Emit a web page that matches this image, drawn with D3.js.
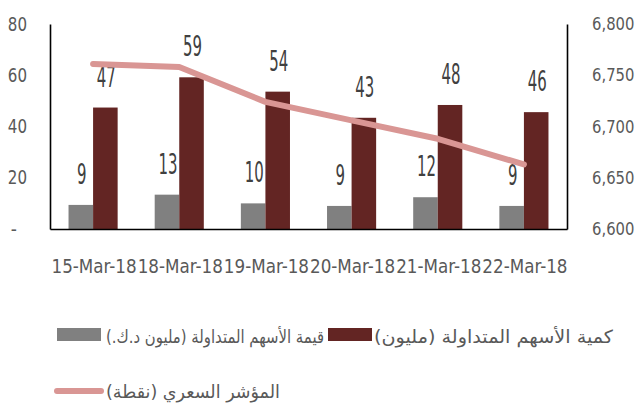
<!DOCTYPE html>
<html lang="ar">
<head>
    <meta charset="UTF-8">
    <title>traded shares chart</title>
    <script src="https://cdn.jsdelivr.net/npm/d3@7/dist/d3.min.js"></script>
    <style>
        body { margin: 0; background: #fff; }
        text { font-family: 'Liberation Sans Narrow', 'DejaVu Sans Condensed', sans-serif; }
        .axis text { fill: #595959; font-size: 19px; }
        .axis.right text { font-size: 17.5px; }
        .axis path { stroke: #000; stroke-width: 1.6; }
        .legend text { font-family: 'DejaVu Sans', sans-serif; fill: #595959; font-size: 18px; }
    </style>
</head>
<body>
    <script>
        // data
        var categories = ['15-Mar-18', '18-Mar-18', '19-Mar-18', '20-Mar-18', '21-Mar-18', '22-Mar-18'];
        var valueTraded = [9.4, 13.4, 10.0, 9.0, 12.4, 9.0];       // grey bars
        var volumeTraded = [47.4, 59.2, 53.6, 43.4, 48.4, 45.6];   // dark red bars
        var priceIndex = [6761, 6758, 6724, 6706, 6688, 6663];     // line, right axis
        var leftTicks = [0, 20, 40, 60, 80];
        var rightTicks = [6600, 6650, 6700, 6750, 6800];
        var seriesNames = ['قيمة الأسهم المتداولة (مليون د.ك.)', 'كمية الأسهم المتداولة (مليون)', 'المؤشر السعري (نقطة)'];

        var w = 637;
        var h = 407;
        // plot box (note: "top" is taken by window.top)
        var plotLeft = 50, plotRight = 567, plotTop = 24, plotBottom = 229;
        var colors = ['#808080', '#632523', '#d99694'];

        var svg = d3.select('body')
                    .append('svg')
                    .attr('width', w)
                    .attr('height', h);

        //scales
        var x0 = d3.scaleBand()
                    .domain(categories)
                    .range([plotLeft, plotRight])
                    .paddingInner(0.43)
                    .paddingOuter(0.215);

        var x1 = d3.scaleBand()
                    .domain([0, 1])
                    .range([0, x0.bandwidth()]);

        var yLeft = d3.scaleLinear()
                    .domain([0, 80])
                    .range([plotBottom, plotTop]);

        var yRight = d3.scaleLinear()
                    .domain([6600, 6800])
                    .range([plotBottom, plotTop]);

        var fmt = d3.format(',');

        // narrow look: squeeze tick text to the width it has in the picture
        function narrow(sel) {
            sel.filter(function() { return this.textContent !== '-'; })
                .attr('textLength', function() {
                    var s = this.textContent;
                    var commas = s.split(',').length - 1;
                    return (s.length - commas) * 9.6 + commas * 4;
                })
                .attr('lengthAdjust', 'spacingAndGlyphs');
        }

        //bars, one group per date
        var groups = svg.append('g')
                    .selectAll('g')
                    .data(categories)
                    .enter()
                    .append('g')
                    .attr('transform', function(d) {
                        return 'translate(' + x0(d) + ',0)';
                    });

        var barData = function(d, i) {
            return [valueTraded[i], volumeTraded[i]];
        };

        groups.selectAll('rect')
            .data(barData)
            .enter()
            .append('rect')
            .attr('x', function(d, j) { return x1(j); })
            .attr('y', function(d) { return yLeft(d); })
            .attr('width', x1.bandwidth())
            .attr('height', function(d) { return plotBottom - yLeft(d); })
            .attr('fill', function(d, j) { return colors[j]; });

        //price index line
        var line = d3.line()
                    .x(function(d, i) { return x0(categories[i]) + x0.bandwidth() / 2; })
                    .y(function(d) { return yRight(d); });

        svg.append('path')
            .datum(priceIndex)
            .attr('d', line)
            .attr('fill', 'none')
            .attr('stroke', colors[2])
            .attr('stroke-width', 6)
            .attr('stroke-linecap', 'round')
            .attr('stroke-linejoin', 'round');

        //data labels - condensed digits, about 31px over the bar top
        groups.selectAll('text')
            .data(barData)
            .enter()
            .append('text')
            .attr('x', function(d, j) { return x1(j) + x1.bandwidth() / 2 + 1; })
            .attr('y', function(d) { return yLeft(d) - 21; })
            .attr('text-anchor', 'middle')
            .attr('fill', '#404040')
            .style('font-size', '28px')
            .attr('textLength', function(d) { return String(Math.round(d)).length * 9.5; })
            .attr('lengthAdjust', 'spacingAndGlyphs')
            .text(function(d) { return Math.round(d); });

        //axes
        var yAxisLeft = d3.axisLeft(yLeft)
                    .tickValues(leftTicks)
                    .tickSize(0)
                    .tickSizeOuter(0)
                    .tickPadding(23)
                    .tickFormat(function(d) { return d === 0 ? '-' : d; });

        var yAxisRight = d3.axisRight(yRight)
                    .tickValues(rightTicks)
                    .tickSize(0)
                    .tickSizeOuter(0)
                    .tickPadding(25)
                    .tickFormat(fmt);

        var xAxis = d3.axisBottom(x0)
                    .tickSize(0)
                    .tickSizeOuter(0)
                    .tickPadding(30);

        var gl = svg.append('g')
            .attr('class', 'axis')
            .attr('transform', 'translate(' + plotLeft + ',0)')
            .call(yAxisLeft);
        gl.selectAll('text').call(narrow);
        gl.selectAll('text')
            .filter(function(d) { return d === 0; })
            .attr('dx', -10);

        svg.append('g')
            .attr('class', 'axis right')
            .attr('transform', 'translate(' + plotRight + ',0)')
            .call(yAxisRight)
            .selectAll('text')
            .call(narrow);

        svg.append('g')
            .attr('class', 'axis')
            .attr('transform', 'translate(0,' + plotBottom + ')')
            .call(xAxis)
            .selectAll('text')
            .style('font-size', '20px')
            .attr('dx', 1)
            .attr('textLength', x0.step() - 1)
            .attr('lengthAdjust', 'spacingAndGlyphs');

        //legend - swatch then right-to-left label
        var legend = svg.append('g').attr('class', 'legend');
        var legendItems = [
            {x: 57, y: 328, text: 106, len: 218, row: 343},
            {x: 328, y: 328, text: 374, len: 239, row: 343}
        ];

        legendItems.forEach(function(it, i) {
            legend.append('rect')
                .attr('x', it.x)
                .attr('y', it.y)
                .attr('width', 44)
                .attr('height', 13)
                .attr('fill', colors[i]);
            legend.append('text')
                .attr('x', it.text + it.len)
                .attr('y', it.row)
                .attr('direction', 'rtl')
                .attr('text-anchor', 'start')
                .attr('textLength', it.len)
                .attr('lengthAdjust', 'spacingAndGlyphs')
                .text(seriesNames[i]);
        });

        legend.append('line')
            .attr('x1', 57)
            .attr('x2', 101)
            .attr('y1', 391)
            .attr('y2', 391)
            .attr('stroke', colors[2])
            .attr('stroke-width', 6)
            .attr('stroke-linecap', 'round');

        legend.append('text')
            .attr('x', 280)
            .attr('y', 398)
            .attr('direction', 'rtl')
            .attr('text-anchor', 'start')
            .attr('textLength', 174)
            .attr('lengthAdjust', 'spacingAndGlyphs')
            .text(seriesNames[2]);
    </script>
</body>
</html>
